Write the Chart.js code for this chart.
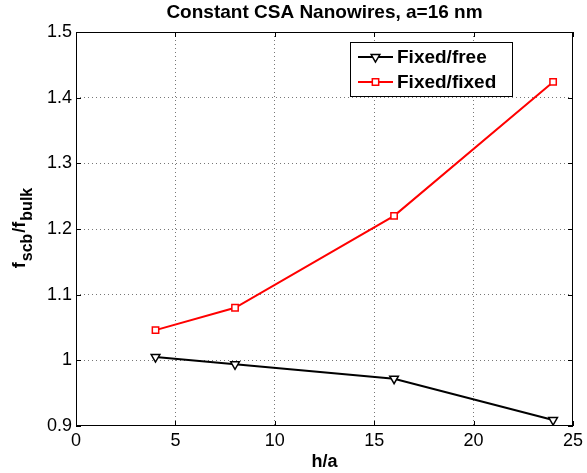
<!DOCTYPE html>
<html>
<head>
<meta charset="utf-8">
<script src="https://cdn.jsdelivr.net/npm/chart.js@4/dist/chart.umd.min.js"></script>
<style>
  html, body { margin: 0; padding: 0; background: #fff; }
  #wrap { width: 587px; height: 473px; }
</style>
</head>
<body>
<div id="wrap"><canvas id="c" width="587" height="473"></canvas></div>
<script>
/* Constant CSA nanowires: f_scb / f_bulk vs h/a */

const hOverA = [4, 8, 16, 24];
const fixedFree = [1.005, 0.994, 0.972, 0.909];
const fixedFixed = [1.046, 1.080, 1.220, 1.424];
const xTicks = [0, 5, 10, 15, 20, 25];
const yTicks = [0.9, 1.0, 1.1, 1.2, 1.3, 1.4, 1.5];

const FONT = "'Liberation Sans', Arial, Helvetica, sans-serif";

const toPts = (xs, ys) => xs.map((x, i) => ({ x, y: ys[i] }));

// title, axis labels, inward ticks, box, legend
const matlabDecor = {
  id: "matlabDecor",
  afterDraw(chart) {
    const { ctx, chartArea: a, scales } = chart;
    const xs = scales.x, ys = scales.y;
    ctx.save();

    // box
    ctx.strokeStyle = "#000";
    ctx.lineWidth = 1;
    ctx.strokeRect(a.left + 0.5, a.top + 0.5, a.right - a.left - 1, a.bottom - a.top - 1);

    // inward ticks
    const tl = 5;
    ctx.beginPath();
    xTicks.forEach((v) => {
      const px = Math.round(xs.getPixelForValue(v)) + 0.5;
      ctx.moveTo(px, a.bottom); ctx.lineTo(px, a.bottom - tl);
      ctx.moveTo(px, a.top); ctx.lineTo(px, a.top + tl);
    });
    yTicks.forEach((v) => {
      const py = Math.round(ys.getPixelForValue(v)) + 0.5;
      ctx.moveTo(a.left, py); ctx.lineTo(a.left + tl, py);
      ctx.moveTo(a.right, py); ctx.lineTo(a.right - tl, py);
    });
    ctx.stroke();

    // title
    const cx = (a.left + a.right) / 2;
    ctx.fillStyle = "#000";
    ctx.textAlign = "center";
    ctx.textBaseline = "middle";
    ctx.font = `bold 19px ${FONT}`;
    ctx.fillText("Constant CSA Nanowires, a=16 nm", cx, 13);

    // x label
    ctx.font = `bold 18px ${FONT}`;
    ctx.fillText("h/a", cx, 462);

    // y label with subscripts, rotated
    ctx.translate(25, 228);
    ctx.rotate(-Math.PI / 2);
    const parts = [
      { t: "f", sub: false }, { t: "scb", sub: true },
      { t: "/f", sub: false }, { t: "bulk", sub: true },
    ];
    const fMain = `bold 18px ${FONT}`, fSub = `bold 16px ${FONT}`;
    const gap = 1;
    let total = 0;
    parts.forEach((p) => { ctx.font = p.sub ? fSub : fMain; p.w = ctx.measureText(p.t).width; total += p.w + gap; });
    total -= gap;
    let x0 = -total / 2;
    ctx.textAlign = "left";
    ctx.textBaseline = "alphabetic";
    parts.forEach((p) => {
      ctx.font = p.sub ? fSub : fMain;
      ctx.fillText(p.t, x0, p.sub ? 7 : 0);
      x0 += p.w + gap;
    });
    ctx.restore();

    // legend
    ctx.save();
    const lx = 350.5, ly = 42.5, lw = 162, lh = 54;
    ctx.fillStyle = "#fff";
    ctx.fillRect(lx, ly, lw, lh);
    ctx.strokeStyle = "#000";
    ctx.lineWidth = 1;
    ctx.strokeRect(lx, ly, lw, lh);
    chart.data.datasets.forEach((ds, i) => {
      const yy = 57 + i * 25;
      ctx.strokeStyle = ds.borderColor;
      ctx.lineWidth = 2;
      ctx.beginPath();
      ctx.moveTo(358, yy); ctx.lineTo(393, yy);
      ctx.stroke();
      ctx.fillStyle = ds.pointBackgroundColor;
      ctx.strokeStyle = ds.pointBorderColor;
      ctx.lineWidth = ds.pointBorderWidth;
      Chart.helpers.drawPoint(ctx, {
        pointStyle: ds.pointStyle, rotation: ds.pointRotation || 0,
        radius: ds.pointRadius, borderWidth: ds.pointBorderWidth,
      }, 375.5, yy);
      ctx.fillStyle = "#000";
      ctx.font = `bold 19px ${FONT}`;
      ctx.textAlign = "left";
      ctx.textBaseline = "middle";
      ctx.fillText(ds.label, 397, yy + 1);
    });
    ctx.restore();
  },
};

const gridOpts = (lo, hi) => ({
  drawTicks: false,
  color: (c) => (c.tick.value === lo || c.tick.value === hi ? "rgba(0,0,0,0)" : "#777"),
  lineWidth: 1,
});

new Chart(document.getElementById("c"), {
  type: "scatter",
  data: {
    datasets: [
      {
        label: "Fixed/free",
        data: toPts(hOverA, fixedFree),
        showLine: true,
        borderColor: "#000",
        borderWidth: 2,
        pointStyle: "triangle",
        pointRotation: 180,
        pointRadius: 5,
        pointBorderWidth: 1.5,
        pointBackgroundColor: "#fff",
        pointBorderColor: "#000",
      },
      {
        label: "Fixed/fixed",
        data: toPts(hOverA, fixedFixed),
        showLine: true,
        borderColor: "#ff0000",
        borderWidth: 2,
        pointStyle: "rect",
        pointRadius: 4.5,
        pointBorderWidth: 1.5,
        pointBackgroundColor: "#fff",
        pointBorderColor: "#ff0000",
      },
    ],
  },
  options: {
    responsive: false,
    animation: false,
    layout: { padding: { top: 32, right: 10, left: 0, bottom: 0 } },
    plugins: {
      legend: { display: false },
      title: { display: false },
      tooltip: { enabled: false },
    },
    scales: {
      x: {
        type: "linear",
        min: 0, max: 25,
        afterBuildTicks: (s) => { s.ticks = xTicks.map((v) => ({ value: v })); },
        afterFit: (s) => { s.height = 47; },
        border: { display: false, dash: [1, 3] },
        grid: gridOpts(0, 25),
        ticks: { padding: 4, color: "#000", font: { family: FONT, size: 18 }, callback: (v) => String(v) },
      },
      y: {
        type: "linear",
        min: 0.9, max: 1.5,
        afterBuildTicks: (s) => { s.ticks = yTicks.map((v) => ({ value: v })); },
        afterFit: (s) => { s.width = 76; },
        border: { display: false, dash: [1, 3] },
        grid: gridOpts(0.9, 1.5),
        ticks: {
          padding: 4, color: "#000", font: { family: FONT, size: 18 },
          callback: (v) => (Math.abs(v - 1) < 1e-9 ? "1" : Number(v).toFixed(1)),
        },
      },
    },
  },
  plugins: [matlabDecor],
});
</script>
</body>
</html>
